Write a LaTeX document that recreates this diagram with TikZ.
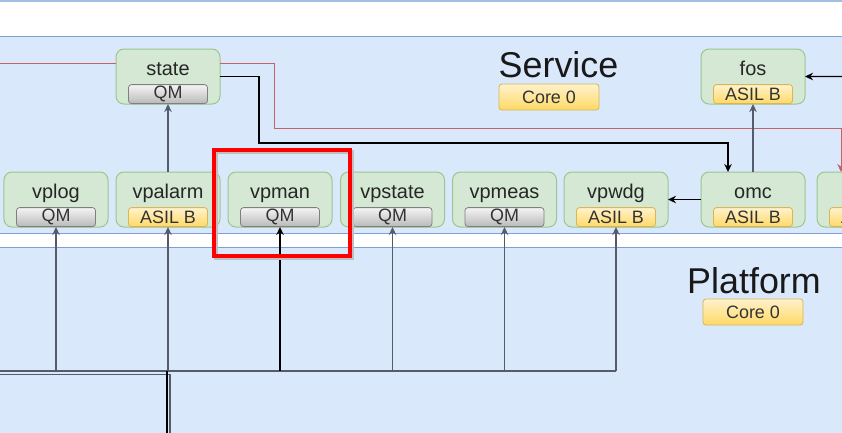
\documentclass[tikz,border=0pt]{standalone}
\usepackage{fontspec}
\setmainfont{Liberation Sans}
\usetikzlibrary{arrows.meta,calc,positioning}

\definecolor{lanefill}{HTML}{DAE8FC}
\definecolor{laneline}{HTML}{7EA1D3}
\definecolor{compfill}{HTML}{D5E8D4}
\definecolor{compline}{HTML}{9CC58F}
\definecolor{asiltop}{HTML}{FFF2CC}
\definecolor{asilbot}{HTML}{FFD966}
\definecolor{asilline}{HTML}{D6B656}
\definecolor{wiregray}{HTML}{555B68}
\definecolor{redwirec}{HTML}{C06468}

\begin{document}
\begin{tikzpicture}[x=1bp,y=-1bp,>={Stealth[length=8bp,width=7.5bp]},
  lane/.style={fill=lanefill,draw=laneline,line width=1bp},
  lanetitle/.style={anchor=base,inner sep=0pt,font=\fontsize{36}{40}\selectfont,text=black!90},
  comp/.style={draw=compline,fill=compfill,line width=1bp,rounded corners=8bp,
    minimum width=104bp,minimum height=55bp,inner sep=0pt,outer sep=0pt,
    text height=15bp,text depth=18bp,font=\fontsize{20}{24}\selectfont,text=black!85},
  badge/.style={anchor=south,rounded corners=3bp,line width=0.8bp,inner sep=0pt,
    minimum width=79bp,minimum height=19bp,font=\fontsize{18}{20}\selectfont,text=black!80},
  qm/.style={badge,draw=black!50,top color=gray!8,bottom color=gray!55},
  asil/.style={badge,draw=asilline,top color=asiltop,bottom color=asilbot},
  core/.style={asil,anchor=center,minimum width=100bp,minimum height=26bp},
  wire/.style={draw=wiregray,line width=1.4bp},
  ctl/.style={draw=black,line width=1.1bp},
  redwire/.style={draw=redwirec,line width=1bp},
  focus/.style={draw=red,line width=4bp,inner sep=0pt,
    minimum width=135.5bp,minimum height=106bp},
  focusshade/.style={draw=black!25,line width=4bp}]
  \useasboundingbox (0,0) rectangle (842,432);
  \clip (0,0) rectangle (842,432);
  \fill[white] (0,0) rectangle (842,432);

  % lanes
  \draw[laneline!70,line width=1.5bp] (-5,1) -- (850,1);
  \draw[lane] (-5,36) rectangle (850,233);
  \draw[lane] (-5,247.5) rectangle (850,440);
  \node[lanetitle] (svcname) at (558.5,77) {Service};
  \node[core] (svccore) at (549,97) {Core 0};
  \node[lanetitle] (pltname) at (754,293) {Platform};
  \node[core] (pltcore) at (753,312) {Core 0};

  % components
  \node[comp] (vplog) at (56,199.5) {vplog};
  \node[comp,right=8bp of vplog] (vpalarm) {vpalarm};
  \node[comp,right=8bp of vpalarm] (vpman) {vpman};
  \node[comp,right=8.5bp of vpman] (vpstate) {vpstate};
  \node[comp,right=8bp of vpstate] (vpmeas) {vpmeas};
  \node[comp,right=7.5bp of vpmeas] (vpwdg) {vpwdg};
  \node[comp,right=33bp of vpwdg] (omc) {omc};
  \node[comp,right=12bp of omc] (far) {};
  \node[comp,above=68bp of vpalarm] (state) {state};
  \node[comp,above=68bp of omc] (fos) {fos};

  \node[qm] (vplogLvl) at (vplog.south) {QM};
  \node[asil] (vpalarmLvl) at (vpalarm.south) {ASIL B};
  \node[qm] (vpmanLvl) at (vpman.south) {QM};
  \node[qm] (vpstateLvl) at (vpstate.south) {QM};
  \node[qm] (vpmeasLvl) at (vpmeas.south) {QM};
  \node[asil] (vpwdgLvl) at (vpwdg.south) {ASIL B};
  \node[asil] (omcLvl) at (omc.south) {ASIL B};
  \node[asil] (farLvl) at (far.south) {ASIL B};
  \node[qm] (stateLvl) at (state.south) {QM};
  \node[asil] (fosLvl) at (fos.south) {ASIL B};

  % service links
  \coordinate (redsrc) at (0,63);
  \coordinate (redbend) at (274,128);
  \coordinate (farin) at ($(far.north west)+(24,0)$);
  \draw[redwire] (redsrc) -- (state.west |- redsrc);
  \draw[redwire,->] (state.east |- redsrc) -| (redbend) -| (farin);
  \coordinate (ctlbend) at (259,143);
  \coordinate (omcin) at ($(omc.north west)+(27,0)$);
  \draw[ctl,->] (state.east) -| (ctlbend) -| (omcin);
  \coordinate (fossrc) at (850,76.5);
  \draw[ctl,->] (fossrc) -- (fos.east);
  \draw[wire,->] (omc.north) -- (fos.south);
  \draw[ctl,->] (omc.west) -- (vpwdg.east);
  \draw[wire,->] (vpalarm.north) -- (state.south);

  % platform bus
  \coordinate (bus) at (0,371);
  \draw[wire] (bus) -- (vpwdg.south |- bus);
  \foreach \c in {vplog,vpalarm,vpstate,vpmeas,vpwdg}
    \draw[wire,->] (\c.south |- bus) -- (\c.south);
  \draw[ctl,->] (vpman.south |- bus) -- (vpman.south);
  \coordinate (bus2) at (0,374.5);
  \coordinate (feedA) at (170,440);
  \draw[wire] (bus2) -| (feedA);
  \coordinate (feedB) at (167,440);
  \draw[black,line width=2.2bp] (feedB) -- (feedB |- bus);

  % highlight
  \draw[focusshade] (284,205) ++(-67.75,-53) rectangle ++(135.5,106);
  \node[focus] (pick) at (281.75,202.5) {};
\end{tikzpicture}
\end{document}
